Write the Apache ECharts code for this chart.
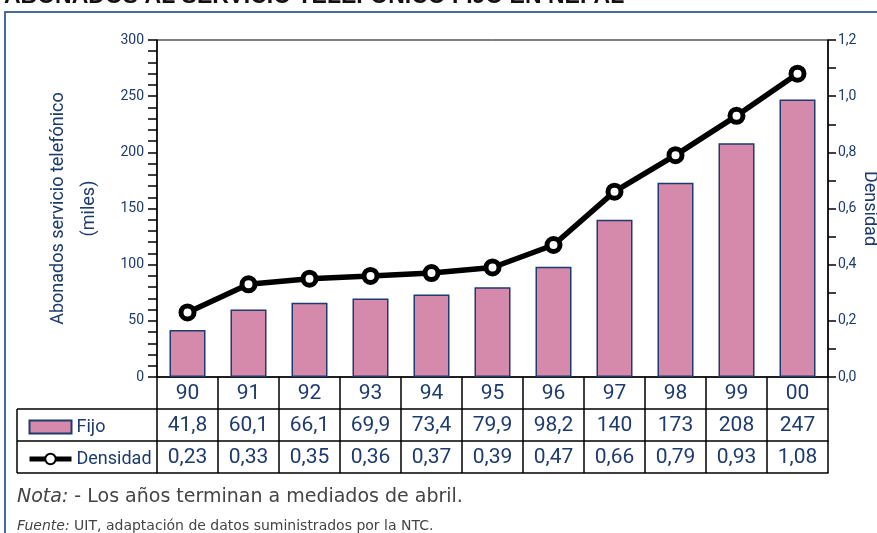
<!DOCTYPE html>
<html>
<head>
<meta charset="utf-8">
<script src="https://cdn.jsdelivr.net/npm/echarts@6/dist/echarts.min.js"></script>
<style>
  html, body { margin: 0; padding: 0; background: #fff; }
  #main { width: 877px; height: 533px; }
</style>
</head>
<body>
<div id="main"></div>
<script>
// datos
var years = ['90', '91', '92', '93', '94', '95', '96', '97', '98', '99', '00']
var fijo = [41.8, 60.1, 66.1, 69.9, 73.4, 79.9, 98.2, 140, 173, 208, 247]
var densidad = [0.23, 0.33, 0.35, 0.36, 0.37, 0.39, 0.47, 0.66, 0.79, 0.93, 1.08]

var navy = '#1d3b6e'
var narrow = 'Roboto, sans-serif'

function coma(v) {
  return String(v).replace('.', ',')
}

var rowH = 32
var tableAxis = function (data, offset, show) {
  return {
    type: 'category',
    gridIndex: 0,
    position: 'bottom',
    offset: offset,
    data: data,
    axisLine: { show: true, onZero: false, lineStyle: { color: '#000', width: 1.5 } },
    axisTick: { show: show, length: rowH, interval: 0, lineStyle: { color: '#000', width: 1.5 } },
    axisLabel: {
      show: show, interval: 0, margin: 6,
      color: navy, fontFamily: narrow, fontSize: 21
    }
  }
}

var myChart = echarts.init(document.getElementById('main'))

var option = {
  animation: false,
  grid: {
    left: 157, right: 49, top: 40, bottom: 156,
    containLabel: false, outerBoundsMode: 'none',
    show: true, borderColor: '#000', borderWidth: 1
  },
  legend: {
    data: [
      { name: 'Fijo', icon: 'rect' },
      { name: 'Densidad', lineStyle: { width: 5, color: '#000' } }
    ],
    orient: 'vertical',
    left: 22, top: 412,
    itemGap: 12,
    itemWidth: 42, itemHeight: 13,
    textStyle: { color: navy, fontFamily: narrow, fontSize: 18, lineHeight: 20 }
  },
  xAxis: [
    tableAxis(years, 0, true),
    tableAxis(fijo.map(coma), rowH, true),
    tableAxis(densidad.map(coma), rowH * 2, true),
    tableAxis(years, rowH * 3, false)
  ],
  yAxis: [
    {
      type: 'value', min: 0, max: 300, interval: 50,
      name: 'Abonados servicio telefónico\n(miles)',
      nameLocation: 'middle', nameRotate: 90, nameGap: 52,
      nameTextStyle: { color: navy, fontFamily: narrow, fontSize: 18, lineHeight: 31 },
      axisLine: { show: true, lineStyle: { color: '#000', width: 1.5 } },
      axisTick: { show: true, length: 9, lineStyle: { color: '#000', width: 1.5 } },
      minorTick: { show: true, splitNumber: 5, length: 9, lineStyle: { color: '#000', width: 1.5 } },
      splitLine: { show: false },
      axisLabel: { color: navy, fontFamily: narrow, fontSize: 14, margin: 13 }
    },
    {
      type: 'value', min: 0, max: 1.2, interval: 0.2,
      name: 'Densidad',
      nameLocation: 'middle', nameRotate: -90, nameGap: 32,
      nameMoveOverlap: false,
      nameTextStyle: { color: navy, fontFamily: narrow, fontSize: 18 },
      axisLine: { show: true, lineStyle: { color: '#000', width: 1.5 } },
      axisTick: { show: true, length: 8, lineStyle: { color: '#000', width: 1.5 } },
      minorTick: { show: true, splitNumber: 2, length: 8, lineStyle: { color: '#000', width: 1.5 } },
      splitLine: { show: false },
      axisLabel: {
        color: navy, fontFamily: narrow, fontSize: 14, margin: 10,
        formatter: function (v) { return v.toFixed(1).replace('.', ',') }
      }
    }
  ],
  series: [
    {
      name: 'Fijo',
      type: 'bar',
      data: fijo,
      barWidth: 36,
      itemStyle: { color: '#d68aab', borderColor: navy, borderWidth: 1.5 }
    },
    {
      name: 'Densidad',
      type: 'line',
      yAxisIndex: 1,
      data: densidad,
      symbol: 'circle',
      symbolSize: 13,
      lineStyle: { color: '#000', width: 5.5 },
      itemStyle: { color: '#fff', borderColor: '#000', borderWidth: 5 }
    }
  ],
  graphic: [
    // marco
    { type: 'rect', shape: { x: 5, y: 12, width: 900, height: 600 }, style: { fill: null, stroke: '#4a6a98', lineWidth: 2 }, silent: true },
    // titulo (cortado arriba)
    { type: 'text', x: 4, y: 8, style: { text: 'ABONADOS AL SERVICIO TELEFÓNICO FIJO EN NEPAL', font: 'bold 23px "Liberation Sans", Arial, sans-serif', fill: '#111', textVerticalAlign: 'bottom' } },
    // celdas de la leyenda
    { type: 'line', shape: { x1: 17, y1: 409, x2: 157, y2: 409 }, style: { stroke: '#000', lineWidth: 1.5 } },
    { type: 'line', shape: { x1: 17, y1: 441, x2: 157, y2: 441 }, style: { stroke: '#000', lineWidth: 1.5 } },
    { type: 'line', shape: { x1: 17, y1: 473, x2: 157, y2: 473 }, style: { stroke: '#000', lineWidth: 1.5 } },
    { type: 'line', shape: { x1: 17, y1: 409, x2: 17, y2: 473 }, style: { stroke: '#000', lineWidth: 1.5 } },
    // notas
    {
      type: 'text', x: 17, y: 497,
      style: {
        text: '{i|Nota:} - Los años terminan a mediados de abril.',
        font: '19px "DejaVu Sans", sans-serif', fill: '#444', textVerticalAlign: 'middle',
        rich: { i: { fontStyle: 'italic', fontSize: 19, fontFamily: '"DejaVu Sans", sans-serif', fill: '#444' } }
      }
    },
    {
      type: 'text', x: 17, y: 526,
      style: {
        text: '{i|Fuente:} UIT, adaptación de datos suministrados por la NTC.',
        font: '14px "DejaVu Sans", sans-serif', fill: '#444', textVerticalAlign: 'middle',
        rich: { i: { fontStyle: 'italic', fontSize: 14, fontFamily: '"DejaVu Sans", sans-serif', fill: '#444' } }
      }
    }
  ]
}

myChart.setOption(option)
</script>
</body>
</html>
